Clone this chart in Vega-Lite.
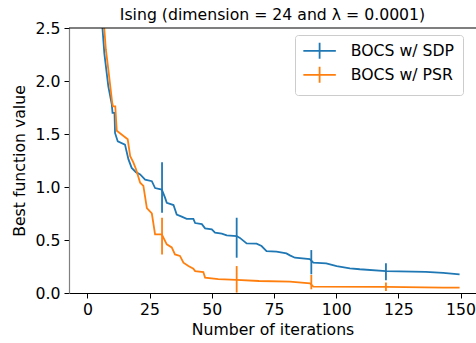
{
  "$schema": "https://vega.github.io/schema/vega-lite/v6.json",
  "width": 407,
  "height": 265,
  "autosize": {"type": "none"},
  "padding": {"left": 69, "top": 28, "right": 0, "bottom": 50},
  "background": "white",
  "title": {"text": "Ising (dimension = 24 and λ = 0.0001)", "font": "DejaVu Sans", "fontSize": 15.7, "fontWeight": "normal", "color": "black", "anchor": "middle", "frame": "group", "offset": -4},
  "config": {
    "view": {"stroke": null},
    "axis": {"labelFont": "DejaVu Sans", "labelFontSize": 15.7, "labelColor": "black", "titleFont": "DejaVu Sans", "titleFontSize": 15.7, "titleFontWeight": "normal", "titleColor": "black", "tickColor": "black", "tickSize": 5, "tickWidth": 1, "grid": false, "domainColor": "black", "domainWidth": 1.2},
    "legend": {"labelFont": "DejaVu Sans", "labelFontSize": 15.7, "labelColor": "black"}
  },
  "datasets": {
    "lines": [
      {"series": "BOCS w/ SDP", "iter": 0, "value": 5.0},
      {"series": "BOCS w/ SDP", "iter": 3, "value": 3.6},
      {"series": "BOCS w/ SDP", "iter": 5, "value": 2.85},
      {"series": "BOCS w/ SDP", "iter": 5.8, "value": 2.58},
      {"series": "BOCS w/ SDP", "iter": 6.8, "value": 2.26},
      {"series": "BOCS w/ SDP", "iter": 8.4, "value": 1.95},
      {"series": "BOCS w/ SDP", "iter": 9.8, "value": 1.78},
      {"series": "BOCS w/ SDP", "iter": 10.1, "value": 1.70},
      {"series": "BOCS w/ SDP", "iter": 10.9, "value": 1.70},
      {"series": "BOCS w/ SDP", "iter": 11.1, "value": 1.51},
      {"series": "BOCS w/ SDP", "iter": 12.2, "value": 1.43},
      {"series": "BOCS w/ SDP", "iter": 15.1, "value": 1.40},
      {"series": "BOCS w/ SDP", "iter": 16.5, "value": 1.26},
      {"series": "BOCS w/ SDP", "iter": 17.8, "value": 1.18},
      {"series": "BOCS w/ SDP", "iter": 19.5, "value": 1.14},
      {"series": "BOCS w/ SDP", "iter": 21.2, "value": 1.118},
      {"series": "BOCS w/ SDP", "iter": 23.2, "value": 1.07},
      {"series": "BOCS w/ SDP", "iter": 25.9, "value": 1.055},
      {"series": "BOCS w/ SDP", "iter": 27.2, "value": 0.99},
      {"series": "BOCS w/ SDP", "iter": 29.9, "value": 0.976},
      {"series": "BOCS w/ SDP", "iter": 31.2, "value": 0.90},
      {"series": "BOCS w/ SDP", "iter": 31.9, "value": 0.85},
      {"series": "BOCS w/ SDP", "iter": 34.6, "value": 0.83},
      {"series": "BOCS w/ SDP", "iter": 35.9, "value": 0.74},
      {"series": "BOCS w/ SDP", "iter": 37.9, "value": 0.72},
      {"series": "BOCS w/ SDP", "iter": 39.9, "value": 0.70},
      {"series": "BOCS w/ SDP", "iter": 42.6, "value": 0.70},
      {"series": "BOCS w/ SDP", "iter": 43.3, "value": 0.66},
      {"series": "BOCS w/ SDP", "iter": 46, "value": 0.65},
      {"series": "BOCS w/ SDP", "iter": 47.3, "value": 0.61},
      {"series": "BOCS w/ SDP", "iter": 50, "value": 0.60},
      {"series": "BOCS w/ SDP", "iter": 51.3, "value": 0.57},
      {"series": "BOCS w/ SDP", "iter": 54, "value": 0.56},
      {"series": "BOCS w/ SDP", "iter": 56, "value": 0.543},
      {"series": "BOCS w/ SDP", "iter": 60, "value": 0.537},
      {"series": "BOCS w/ SDP", "iter": 61.3, "value": 0.52},
      {"series": "BOCS w/ SDP", "iter": 64, "value": 0.468},
      {"series": "BOCS w/ SDP", "iter": 68, "value": 0.465},
      {"series": "BOCS w/ SDP", "iter": 70, "value": 0.443},
      {"series": "BOCS w/ SDP", "iter": 72, "value": 0.395},
      {"series": "BOCS w/ SDP", "iter": 76, "value": 0.39},
      {"series": "BOCS w/ SDP", "iter": 80, "value": 0.374},
      {"series": "BOCS w/ SDP", "iter": 81.4, "value": 0.355},
      {"series": "BOCS w/ SDP", "iter": 83.4, "value": 0.333},
      {"series": "BOCS w/ SDP", "iter": 89.4, "value": 0.32},
      {"series": "BOCS w/ SDP", "iter": 90.8, "value": 0.286},
      {"series": "BOCS w/ SDP", "iter": 96, "value": 0.28},
      {"series": "BOCS w/ SDP", "iter": 100.2, "value": 0.254},
      {"series": "BOCS w/ SDP", "iter": 105.5, "value": 0.233},
      {"series": "BOCS w/ SDP", "iter": 109.5, "value": 0.224},
      {"series": "BOCS w/ SDP", "iter": 120, "value": 0.207},
      {"series": "BOCS w/ SDP", "iter": 136, "value": 0.2},
      {"series": "BOCS w/ SDP", "iter": 143, "value": 0.19},
      {"series": "BOCS w/ SDP", "iter": 149.6, "value": 0.175},
      {"series": "BOCS w/ PSR", "iter": 0, "value": 5.0},
      {"series": "BOCS w/ PSR", "iter": 3, "value": 3.7},
      {"series": "BOCS w/ PSR", "iter": 5, "value": 2.95},
      {"series": "BOCS w/ PSR", "iter": 6.5, "value": 2.58},
      {"series": "BOCS w/ PSR", "iter": 7.4, "value": 2.3},
      {"series": "BOCS w/ PSR", "iter": 8.4, "value": 2.11},
      {"series": "BOCS w/ PSR", "iter": 10.0, "value": 1.79},
      {"series": "BOCS w/ PSR", "iter": 10.3, "value": 1.76},
      {"series": "BOCS w/ PSR", "iter": 11.2, "value": 1.76},
      {"series": "BOCS w/ PSR", "iter": 11.8, "value": 1.53},
      {"series": "BOCS w/ PSR", "iter": 16.2, "value": 1.45},
      {"series": "BOCS w/ PSR", "iter": 17.2, "value": 1.29},
      {"series": "BOCS w/ PSR", "iter": 18.5, "value": 1.23},
      {"series": "BOCS w/ PSR", "iter": 19.5, "value": 1.17},
      {"series": "BOCS w/ PSR", "iter": 21.2, "value": 1.04},
      {"series": "BOCS w/ PSR", "iter": 22.5, "value": 1.01},
      {"series": "BOCS w/ PSR", "iter": 23.9, "value": 0.80},
      {"series": "BOCS w/ PSR", "iter": 25.9, "value": 0.75},
      {"series": "BOCS w/ PSR", "iter": 27.2, "value": 0.553},
      {"series": "BOCS w/ PSR", "iter": 29.9, "value": 0.553},
      {"series": "BOCS w/ PSR", "iter": 31.9, "value": 0.459},
      {"series": "BOCS w/ PSR", "iter": 33.9, "value": 0.43},
      {"series": "BOCS w/ PSR", "iter": 35.2, "value": 0.364},
      {"series": "BOCS w/ PSR", "iter": 37.2, "value": 0.35},
      {"series": "BOCS w/ PSR", "iter": 38.6, "value": 0.286},
      {"series": "BOCS w/ PSR", "iter": 40.6, "value": 0.255},
      {"series": "BOCS w/ PSR", "iter": 42.6, "value": 0.23},
      {"series": "BOCS w/ PSR", "iter": 43.3, "value": 0.207},
      {"series": "BOCS w/ PSR", "iter": 46.6, "value": 0.198},
      {"series": "BOCS w/ PSR", "iter": 47.3, "value": 0.145},
      {"series": "BOCS w/ PSR", "iter": 52.6, "value": 0.13},
      {"series": "BOCS w/ PSR", "iter": 60, "value": 0.123},
      {"series": "BOCS w/ PSR", "iter": 69, "value": 0.113},
      {"series": "BOCS w/ PSR", "iter": 81.4, "value": 0.107},
      {"series": "BOCS w/ PSR", "iter": 89.5, "value": 0.09},
      {"series": "BOCS w/ PSR", "iter": 90.8, "value": 0.06},
      {"series": "BOCS w/ PSR", "iter": 120, "value": 0.057},
      {"series": "BOCS w/ PSR", "iter": 143, "value": 0.05},
      {"series": "BOCS w/ PSR", "iter": 149.6, "value": 0.05}
    ],
    "errors": [
      {"series": "BOCS w/ SDP", "iter": 30, "lo": 0.757, "hi": 1.234},
      {"series": "BOCS w/ SDP", "iter": 60, "lo": 0.333, "hi": 0.71},
      {"series": "BOCS w/ SDP", "iter": 90, "lo": 0.176, "hi": 0.405},
      {"series": "BOCS w/ SDP", "iter": 120, "lo": 0.12, "hi": 0.28},
      {"series": "BOCS w/ PSR", "iter": 30, "lo": 0.364, "hi": 0.71},
      {"series": "BOCS w/ PSR", "iter": 60, "lo": 0.004, "hi": 0.254},
      {"series": "BOCS w/ PSR", "iter": 90, "lo": 0.035, "hi": 0.17},
      {"series": "BOCS w/ PSR", "iter": 120, "lo": 0.02, "hi": 0.1}
    ],
    "spine": [{"top": 2.5}]
  },
  "layer": [
    {
      "data": {"name": "lines"},
      "mark": {"type": "line", "strokeWidth": 1.8, "clip": true},
      "encoding": {
        "x": {"field": "iter", "type": "quantitative", "scale": {"domain": [-7.4, 156.2], "nice": false, "zero": false},
          "axis": {"title": "Number of iterations", "values": [0, 25, 50, 75, 100, 125, 150], "labelPadding": 4, "titlePadding": 6}},
        "y": {"field": "value", "type": "quantitative", "scale": {"domain": [0, 2.5], "nice": false},
          "axis": {"title": "Best function value", "values": [0, 0.5, 1, 1.5, 2, 2.5], "format": ".1f", "labelPadding": 4, "titlePadding": 8, "domainColor": "#808080"}},
        "color": {"field": "series", "type": "nominal", "sort": ["BOCS w/ SDP", "BOCS w/ PSR"],
          "scale": {"domain": ["BOCS w/ SDP", "BOCS w/ PSR"], "range": ["#1f77b4", "#ff7f0e"]},
          "legend": {"title": null, "orient": "none", "legendX": 226, "legendY": 7, "symbolType": "M-1.5,0L5,0M1.75,-1.6L1.75,1.6", "symbolSize": 100, "symbolStrokeWidth": 1.8, "labelOffset": 32, "strokeColor": "#cccccc", "fillColor": "rgba(255,255,255,0.8)", "cornerRadius": 3, "padding": 8, "rowPadding": 0}}
      }
    },
    {
      "data": {"name": "errors"},
      "mark": {"type": "rule", "strokeWidth": 1.8},
      "encoding": {
        "x": {"field": "iter", "type": "quantitative"},
        "y": {"field": "lo", "type": "quantitative"},
        "y2": {"field": "hi"},
        "color": {"field": "series", "type": "nominal"}
      }
    },
    {
      "data": {"name": "spine"},
      "mark": {"type": "rule", "color": "black", "strokeWidth": 1.2},
      "encoding": {
        "y": {"field": "top", "type": "quantitative"}
      }
    }
  ]
}
